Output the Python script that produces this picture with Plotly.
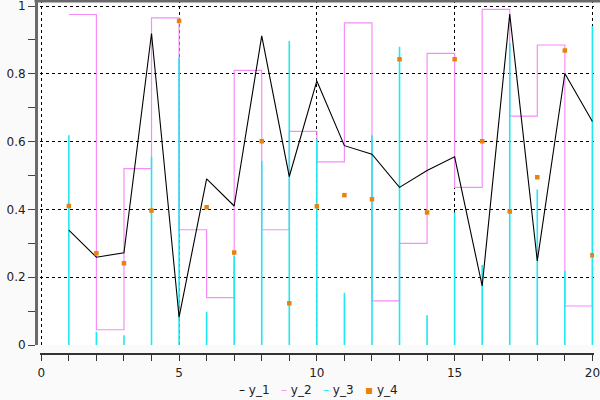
import plotly.graph_objects as go

x = list(range(1, 21))
y_1 = [0.339, 0.259, 0.272, 0.919, 0.082, 0.49, 0.41, 0.912, 0.497, 0.779,
       0.588, 0.563, 0.465, 0.515, 0.555, 0.174, 0.976, 0.248, 0.801, 0.659]
y_2 = [0.975, 0.045, 0.52, 0.965, 0.34, 0.14, 0.81, 0.34, 0.63, 0.54,
       0.95, 0.13, 0.30, 0.86, 0.465, 0.99, 0.675, 0.885, 0.115, 0.6]
y_3 = [0.619, 0.039, 0.029, 0.555, 0.847, 0.098, 0.262, 0.543, 0.897, 0.608,
       0.154, 0.619, 0.88, 0.088, 0.391, 0.236, 0.89, 0.459, 0.219, 0.941]
y_4 = [0.41, 0.271, 0.241, 0.397, 0.956, 0.406, 0.273, 0.601, 0.123, 0.409,
       0.442, 0.43, 0.843, 0.391, 0.843, 0.601, 0.394, 0.495, 0.869, 0.265]
x_ticks = [0, 5, 10, 15, 20]
y_ticks = [0, 0.2, 0.4, 0.6, 0.8, 1]
y_tick_text = ["0", "0.2", "0.4", "0.6", "0.8", "1"]

C1, C2, C3, C4 = "#000000", "#f88cf8", "#1ee8f0", "#e8820a"

# stems for y_3
sx, sy = [], []
for xi, yi in zip(x, y_3):
    sx += [xi, xi, None]
    sy += [0, yi, None]

fig = go.Figure()
fig.add_trace(go.Scatter(x=x, y=y_2, mode="lines", line=dict(color=C2, width=1.2, shape="hv"), name="y_2"))
fig.add_trace(go.Scatter(x=sx, y=sy, mode="lines", line=dict(color=C3, width=1.6), name="y_3"))
fig.add_trace(go.Scatter(x=x, y=y_1, mode="lines", line=dict(color=C1, width=1.1), name="y_1"))
fig.add_trace(go.Scatter(x=x, y=y_4, mode="markers", marker=dict(color=C4, size=4.5, symbol="square", line=dict(width=0)), name="y_4"))

L, R, T, B = 36, 5, 0, 46
W, H = 600 - L - R, 400 - T - B
PX = 27.555           # pixels per x unit
x_lo, x_hi = -0.06, 20.06
dom_left = (41.3 + x_lo * PX - L) / W
dom_right = min(1.0, dom_left + (x_hi - x_lo) * PX / W)

fig.update_layout(
    width=600, height=400,
    margin=dict(l=L, r=R, t=T, b=B, pad=0, autoexpand=False),
    paper_bgcolor="#fafafa", plot_bgcolor="#ffffff",
    showlegend=False,
    font=dict(family="DejaVu Sans", size=12, color="#222222"),
    xaxis=dict(
        domain=[dom_left, dom_right], range=[x_lo, x_hi], anchor="free", position=0,
        showline=True, linecolor="#333333", linewidth=1.5,
        ticks="outside", ticklen=6, tickcolor="#333333", tickwidth=1.2,
        tickvals=x_ticks, ticktext=[str(v) for v in x_ticks], ticklabelstandoff=2,
        minor=dict(dtick=1, ticks="outside", ticklen=6, tickcolor="#333333", tickwidth=1.2, showgrid=False),
        showgrid=True, gridcolor="#000000", griddash="dot", gridwidth=1,
        zeroline=False, ticklabeloverflow="allow", automargin=False,
    ),
    yaxis=dict(
        domain=[9 / H, 1], range=[0, 1 + 6 / 339], anchor="free", position=0,
        showline=True, linecolor="#6a6a6a", linewidth=3,
        ticks="outside", ticklen=7, tickcolor="#444444", tickwidth=1.2,
        tickvals=y_ticks, ticktext=y_tick_text,
        minor=dict(dtick=0.1, ticks="outside", ticklen=7, tickcolor="#444444", tickwidth=1.2, showgrid=False),
        showgrid=True, gridcolor="#000000", griddash="dot", gridwidth=1,
        zeroline=False, ticklabeloverflow="allow", automargin=False,
    ),
    shapes=[dict(type="line", xref="paper", yref="paper", x0=-1.5 / W, x1=(600 - L) / W,
                 y0=1 - 1 / H, y1=1 - 1 / H, line=dict(color="#6a6a6a", width=3))],
    annotations=[dict(
        xref="paper", yref="paper", x=(318 - L) / W, y=(H - 390 + T) / H,
        xanchor="center", yanchor="middle", showarrow=False,
        text=(f"<span style='color:{C1}'>–</span> y_1&nbsp;&nbsp;&nbsp;"
              f"<span style='color:{C2}'>–</span> y_2&nbsp;&nbsp;&nbsp;"
              f"<span style='color:{C3}'>–</span> y_3&nbsp;&nbsp;&nbsp;"
              f"<span style='color:{C4}'>▪</span>&nbsp;y_4"),
        font=dict(size=12, color="#222222"),
    )],
)

fig.write_html("out.html", config={"displayModeBar": False},
               post_script="document.body.style.margin='0';document.body.style.padding='0';")
